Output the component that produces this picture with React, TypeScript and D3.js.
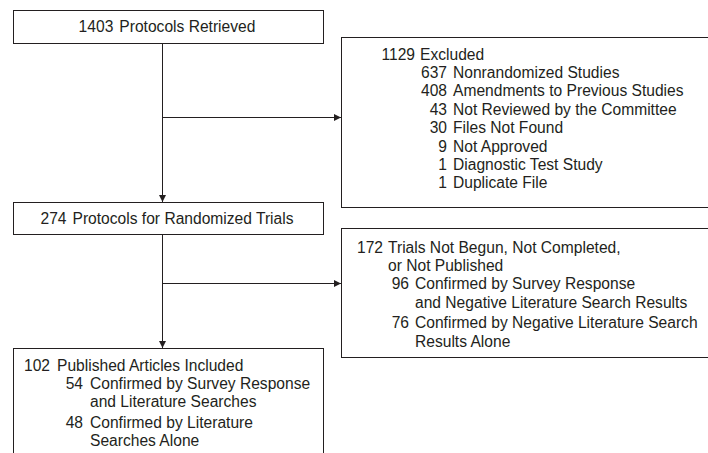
import React, { useEffect, useRef } from 'react';
import * as d3 from 'd3';

// flow counts
const stageNums = ['1403', '274'];
const stageLabels = ['Protocols Retrieved', 'Protocols for Randomized Trials'];

const excludedNum = '1129';
const excludedHead = ['Excluded'];
const excludedNums = ['637', '408', '43', '30', '9', '1', '1'];
const excludedLabels = [
  ['Nonrandomized Studies'],
  ['Amendments to Previous Studies'],
  ['Not Reviewed by the Committee'],
  ['Files Not Found'],
  ['Not Approved'],
  ['Diagnostic Test Study'],
  ['Duplicate File']
];

const notPubNum = '172';
const notPubHead = ['Trials Not Begun, Not Completed,', 'or Not Published'];
const notPubNums = ['96', '76'];
const notPubLabels = [
  ['Confirmed by Survey Response', 'and Negative Literature Search Results'],
  ['Confirmed by Negative Literature Search', 'Results Alone']
];

const includedNum = '102';
const includedHead = ['Published Articles Included'];
const includedNums = ['54', '48'];
const includedLabels = [
  ['Confirmed by Survey Response', 'and Literature Searches'],
  ['Confirmed by Literature', 'Searches Alone']
];

const W = 708, H = 453;
const FONT = '"Liberation Sans", Arial, Helvetica, sans-serif';
const FS = 15.6;
const STEP = 18.4;
const ITEM_GAP = 2;
const INK = '#231f20';

export default function App() {
  const ref = useRef<SVGSVGElement>(null);

  useEffect(() => {
    const svg = d3.select(ref.current);
    svg.selectAll('*').remove();
    svg.attr('viewBox', `0 0 ${W} ${H}`);

    svg.append('defs').append('marker')
      .attr('id', 'head')
      .attr('viewBox', '0 0 10 10')
      .attr('refX', 10).attr('refY', 5)
      .attr('markerWidth', 9).attr('markerHeight', 7)
      .attr('markerUnits', 'userSpaceOnUse')
      .attr('orient', 'auto')
      .append('path').attr('d', 'M0,0L10,5L0,10Z').attr('fill', INK);

    const g = svg.append('g')
      .attr('font-family', FONT)
      .attr('font-size', FS)
      .attr('fill', INK);

    // column of the main flow and the side boxes
    const main = { x0: 13, x1: 323 };
    const side = { x0: 341, x1: 730 };
    const spine = 162;

    const stageY = [[10, 43], [202, 234]];

    const rect = (x0, y0, x1, y1) =>
      g.append('rect')
        .attr('x', x0 + 0.5).attr('y', y0 + 0.5)
        .attr('width', x1 - x0).attr('height', y1 - y0)
        .attr('fill', 'none').attr('stroke', INK).attr('stroke-width', 1);

    // top stage boxes, centred text
    stageNums.forEach((n, i) => {
      const [y0, y1] = stageY[i];
      rect(main.x0, y0, main.x1, y1);
      const t = g.append('text')
        .attr('x', (main.x0 + main.x1) / 2 - 1)
        .attr('y', (y0 + y1) / 2)
        .attr('dy', '0.36em')
        .attr('text-anchor', 'middle');
      t.append('tspan').text(n);
      t.append('tspan').attr('dx', 6).text(stageLabels[i]);
    });

    // list boxes: number column + label column, sub items indented
    const listBox = (box, num, head, nums, labels) => {
      rect(box.x0, box.y0, box.x1, box.y1);
      let y = box.firstY;
      const line = (nx, lx, n, lines) => {
        lines.forEach((s, k) => {
          if (k === 0 && n) {
            g.append('text').attr('x', nx).attr('y', y).attr('dy', '0.36em')
              .attr('text-anchor', 'end').text(n);
          }
          g.append('text').attr('x', lx).attr('y', y).attr('dy', '0.36em').text(s);
          y += STEP;
        });
      };
      line(box.numX, box.labelX, num, head);
      nums.forEach((n, i) => {
        if (i > 0 && labels[i - 1].length > 1) y += ITEM_GAP;
        line(box.subNumX, box.subLabelX, n, labels[i]);
      });
    };

    listBox({ x0: side.x0, x1: side.x1, y0: 37, y1: 207, firstY: 54,
              numX: 415, labelX: 420, subNumX: 447, subLabelX: 453 },
            excludedNum, excludedHead, excludedNums, excludedLabels);

    listBox({ x0: side.x0, x1: side.x1, y0: 228, y1: 357, firstY: 247,
              numX: 383, labelX: 388, subNumX: 409, subLabelX: 415 },
            notPubNum, notPubHead, notPubNums, notPubLabels);

    listBox({ x0: main.x0, x1: main.x1, y0: 348, y1: 470, firstY: 365,
              numX: 50, labelX: 57, subNumX: 83, subLabelX: 90 },
            includedNum, includedHead, includedNums, includedLabels);

    // connectors
    const arrow = (x1, y1, x2, y2) =>
      g.append('line')
        .attr('x1', x1).attr('y1', y1).attr('x2', x2).attr('y2', y2)
        .attr('stroke', INK).attr('stroke-width', 1)
        .attr('marker-end', 'url(#head)');

    const sx = spine + 0.5;
    arrow(sx, 44, sx, 202);
    arrow(sx, 117.5, side.x0, 117.5);
    arrow(sx, 235, sx, 348);
    arrow(sx, 283.5, side.x0, 283.5);
  }, []);

  return (
    <svg ref={ref} width={W} height={H}
         style={{ position: 'absolute', left: 0, top: 0, background: '#fff' }} />
  );
}
